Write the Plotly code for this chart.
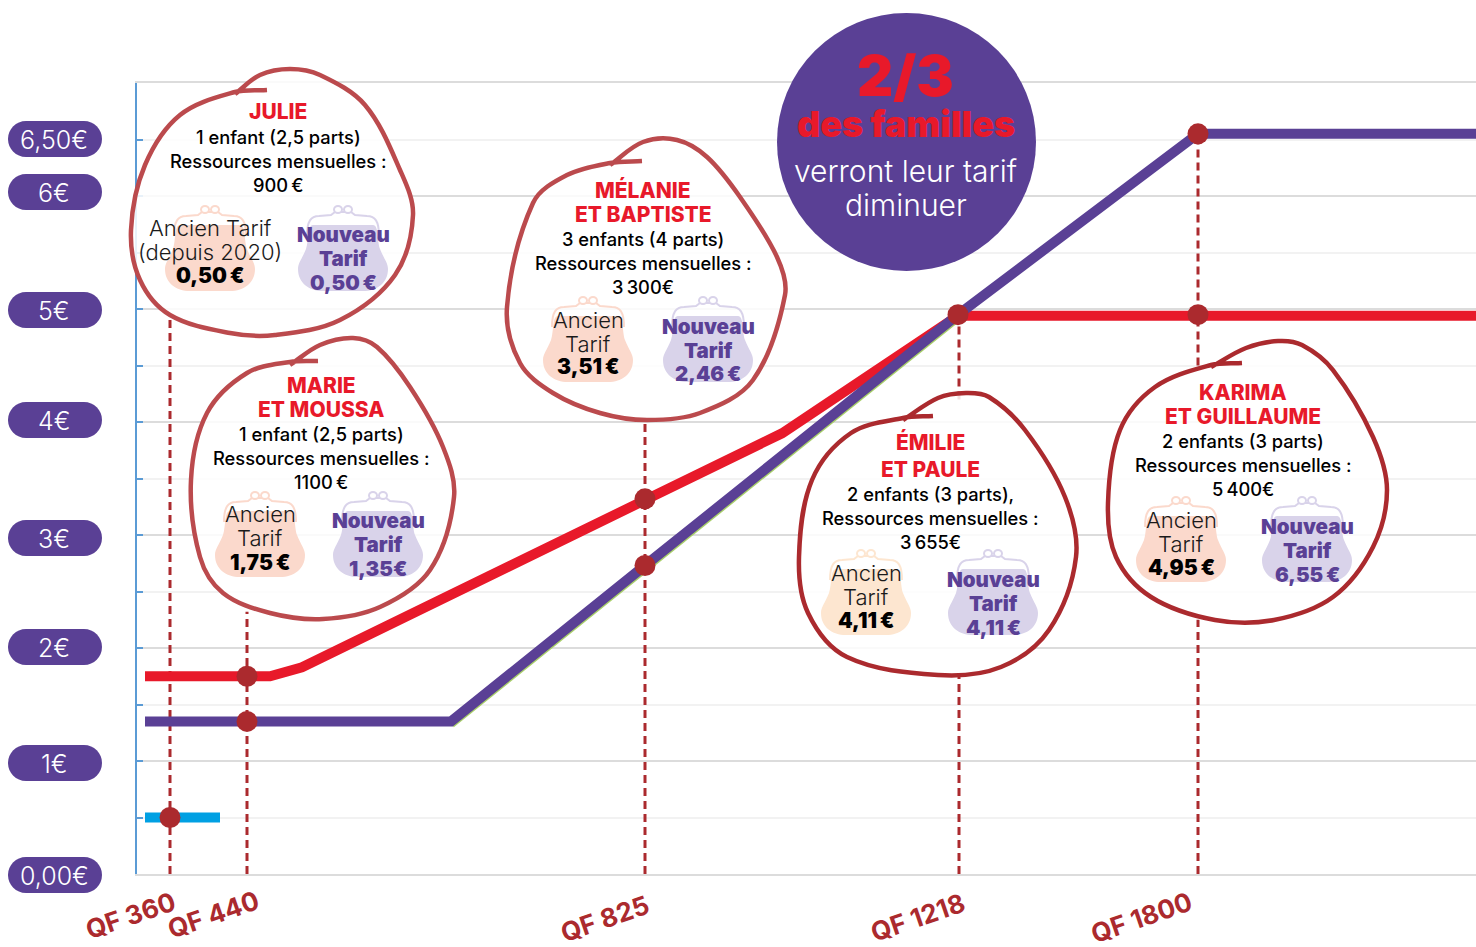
import math
import plotly.graph_objects as go

# ---------- data ----------
y_tick_values = [0, 1, 2, 3, 4, 5, 6, 6.5]
y_tick_labels = ["0,00€", "1€", "2€", "3€", "4€", "5€", "6€", "6,50€"]
qf_labels = ["QF 360", "QF 440", "QF 825", "QF 1218", "QF 1800"]
qf_pos = [170, 247, 645, 959, 1198]          # the QF scale of the source is not linear

old_x = [145, 247, 270, 302, 645, 782, 958, 1476]
old_y = [1.75, 1.75, 1.75, 1.83, 3.32, 3.90, 4.94, 4.94]
new_x = [145, 451, 645, 958, 1198, 1476]
new_y = [1.35, 1.35, 2.73, 4.95, 6.55, 6.55]
edge_x = [451, 645, 958]
edge_y = [1.33, 2.71, 4.93]
low_x = [145, 220]
low_y = [0.5, 0.5]

dot_x = [170, 247, 247, 645, 645, 958, 1198, 1198]
dot_y = [0.5, 1.75, 1.35, 3.32, 2.73, 4.95, 4.95, 6.55]

drop_x = [[170, 170], [247, 247], [645, 645], [959, 959, None, 959, 959], [1198, 1198, None, 1198, 1198]]
drop_y = [[0, 4.94], [0, 2.32], [0, 4.0], [0, 1.75, None, 4.2, 4.95], [0, 2.25, None, 4.5, 6.55]]

names = [["JULIE"], ["MARIE", "ET MOUSSA"], ["MÉLANIE", "ET BAPTISTE"], ["ÉMILIE", "ET PAULE"], ["KARIMA", "ET GUILLAUME"]]
households = ["1 enfant (2,5 parts)", "1 enfant (2,5 parts)", "3 enfants (4 parts)", "2 enfants (3 parts),", "2 enfants (3 parts)"]
incomes = ["900\u2009€", "1100\u2009€", "3\u2009300€", "3\u2009655€", "5\u2009400€"]
old_labels = [["Ancien Tarif", "(depuis 2020)"], ["Ancien", "Tarif"], ["Ancien", "Tarif"], ["Ancien", "Tarif"], ["Ancien", "Tarif"]]
old_prices = ["0,50\u2009€", "1,75\u2009€", "3,51\u2009€", "4,11\u2009€", "4,95\u2009€"]
new_prices = ["0,50\u2009€", "1,35€", "2,46\u2009€", "4,11\u2009€", "6,55\u2009€"]

# ---------- style / layout ----------
W, H = 1476, 947
FONT = "Inter"
RED, PURPLE, DARK = "#e8192a", "#5a4095", "#ab2a2e"
SOFT = "#bb4a4d"

name_y = [[112], [385, 409], [190, 214], [442, 469], [392, 416]]
text_x = [278, 321, 643, 930, 1243]
detail_y = [[137, 161, 185], [434, 458, 482], [239, 263, 287], [494, 518, 542], [441, 465, 489]]
old_cx = [210, 260, 588, 866, 1181]
new_cx = [343, 378, 708, 993, 1307]
purse_bottom = [291, 577, 382, 635, 582]
old_text_y = [[228, 252, 275], [514, 538, 562], [320, 344, 367], [573, 597, 620], [520, 544, 567]]
new_text_y = [[234, 258, 282], [520, 544, 568], [326, 350, 374], [579, 603, 627], [526, 550, 574]]
old_fill = ["#fbd9cc", "#fbd9cc", "#fbd9cc", "#fde6d0", "#fbd9cc"]
new_fill = "#d9d3ea"
blob_color = [SOFT, SOFT, SOFT, DARK, DARK]
blobs = [
    [(267, 90), (235, 92), (180, 115), (145, 165), (131, 230), (140, 280), (170, 315), (230, 333), (275, 335), (340, 320),
     (395, 275), (413, 215), (400, 170), (365, 105), (320, 75), (290, 69), (260, 75), (235, 94)],
    [(318, 361), (290, 362), (247, 373), (207, 413), (191, 480), (200, 557), (223, 593), (270, 613), (323, 619), (380, 607),
     (430, 570), (454, 497), (443, 447), (410, 387), (377, 347), (353, 338), (320, 345), (290, 365)],
    [(642, 161), (610, 163), (567, 175), (533, 203), (507, 307), (520, 363), (553, 393), (600, 413), (647, 420), (700, 413),
     (753, 380), (785, 295), (777, 257), (740, 197), (707, 157), (677, 140), (643, 142), (610, 165)],
    [(933, 416), (903, 418), (851, 433), (812, 480), (799, 557), (808, 613), (847, 657), (938, 675), (1001, 667), (1049, 630),
     (1076, 557), (1065, 497), (1025, 430), (989, 397), (966, 393), (938, 398), (903, 420)],
    [(1242, 363), (1211, 365), (1155, 387), (1120, 430), (1108, 503), (1116, 557), (1151, 597), (1215, 620), (1274, 620), (1333, 597),
     (1373, 547), (1387, 490), (1373, 437), (1333, 370), (1302, 345), (1278, 341), (1246, 348), (1211, 367)],
]


def px(x):
    return x / W


def py(y):
    return 1 - y / H


def P(x, y):
    return f"{px(x):.5f},{py(y):.5f}"


def smooth(points):
    d = "M" + P(*points[0])
    n = len(points)

    def unit(a, b):
        dx, dy = b[0] - a[0], b[1] - a[1]
        ln = math.hypot(dx, dy) or 1
        return dx / ln, dy / ln

    for i in range(n - 1):
        p0 = points[max(i - 1, 0)]
        p1, p2 = points[i], points[i + 1]
        p3 = points[min(i + 2, n - 1)]
        seg = math.hypot(p2[0] - p1[0], p2[1] - p1[1]) / 3
        t1 = unit(p0, p2)
        t2 = unit(p1, p3)
        c1 = (p1[0] + t1[0] * seg, p1[1] + t1[1] * seg)
        c2 = (p2[0] - t2[0] * seg, p2[1] - t2[1] * seg)
        d += f" C{P(*c1)} {P(*c2)} {P(*p2)}"
    return d


shapes, annotations = [], []


def pshape(d, fill="rgba(0,0,0,0)", line="rgba(0,0,0,0)", width=0):
    shapes.append(dict(type="path", path=d, xref="paper", yref="paper", layer="above",
                       fillcolor=fill, line=dict(color=line, width=width)))


def oval(x0, y0, x1, y1, fill, line="rgba(0,0,0,0)", width=0):
    shapes.append(dict(type="circle", xref="paper", yref="paper", layer="above",
                       x0=px(x0), x1=px(x1), y0=py(y1), y1=py(y0), fillcolor=fill, line=dict(color=line, width=width)))


def text(x, y, s, size, color="#000000", weight=400, angle=0):
    annotations.append(dict(xref="paper", yref="paper", x=px(x), y=py(y), text=s,
                            showarrow=False, xanchor="center", yanchor="middle", textangle=angle,
                            font=dict(family=FONT, size=size, color=color, weight=weight)))


def purse(cx, b, fill):
    d = (f"M{P(cx-30, b-66)} L{P(cx+30, b-66)} C{P(cx+36, b-66)} {P(cx+34, b-50)} {P(cx+37, b-42)} "
         f"C{P(cx+41, b-32)} {P(cx+45, b-28)} {P(cx+45, b-22)} C{P(cx+45, b-8)} {P(cx+34, b)} {P(cx+20, b)} "
         f"L{P(cx-20, b)} C{P(cx-34, b)} {P(cx-45, b-8)} {P(cx-45, b-22)} C{P(cx-45, b-28)} {P(cx-41, b-32)} {P(cx-37, b-42)} "
         f"C{P(cx-34, b-50)} {P(cx-36, b-66)} {P(cx-30, b-66)} Z")
    pshape(d, fill=fill)
    frame = (f"M{P(cx-36, b-55)} C{P(cx-36, b-70)} {P(cx-32, b-75)} {P(cx-24, b-75)} L{P(cx-12, b-76)} L{P(cx-8, b-79)} "
             f"L{P(cx+8, b-79)} L{P(cx+12, b-76)} L{P(cx+24, b-75)} C{P(cx+32, b-75)} {P(cx+36, b-70)} {P(cx+36, b-55)}")
    pshape(frame, line=fill, width=2)
    oval(cx - 9, b - 85, cx - 1, b - 78, "#ffffff", fill, 2)
    oval(cx + 1, b - 85, cx + 9, b - 78, "#ffffff", fill, 2)


# ---------- chart ----------
fig = go.Figure()
for xs, ys in zip(drop_x, drop_y):
    fig.add_trace(go.Scatter(x=xs, y=ys, mode="lines", line=dict(color=DARK, width=3, dash="8px,5px"), hoverinfo="skip"))
fig.add_trace(go.Scatter(x=low_x, y=low_y, mode="lines", line=dict(color="#00a0e3", width=10)))
fig.add_trace(go.Scatter(x=old_x, y=old_y, mode="lines", line=dict(color=RED, width=10)))
fig.add_trace(go.Scatter(x=edge_x, y=edge_y, mode="lines", line=dict(color="#a8cf6a", width=9)))
fig.add_trace(go.Scatter(x=new_x, y=new_y, mode="lines", line=dict(color=PURPLE, width=10)))
fig.add_trace(go.Scatter(x=dot_x, y=dot_y, mode="markers", marker=dict(color=DARK, size=21)))

# tick pills
pill_center = [875, 763, 647, 538, 420, 310, 192, 139]
for lab, cy in zip(y_tick_labels, pill_center):
    r = 18
    d = (f"M{P(26, cy-r)} L{P(84, cy-r)} C{P(94, cy-r)} {P(102, cy-10)} {P(102, cy)} C{P(102, cy+10)} {P(94, cy+r)} {P(84, cy+r)} "
         f"L{P(26, cy+r)} C{P(16, cy+r)} {P(8, cy+10)} {P(8, cy)} C{P(8, cy-10)} {P(16, cy-r)} {P(26, cy-r)} Z")
    pshape(d, fill=PURPLE)
    text(54, cy + 1, lab, 25, "#ffffff", 300)

# x labels
qf_label_x = [130, 213, 605, 917, 1141]
qf_label_y = [915, 914, 918, 917, 917]
for lab, x, y in zip(qf_labels, qf_label_x, qf_label_y):
    text(x, y, lab, 26, DARK, 700, angle=-19)

# big circle
oval(777, 13, 1036, 271, PURPLE)
text(906, 76, "2/3", 56, RED, 900)
text(906, 124, "des familles", 36, RED, 900)
text(906, 171, "verront leur tarif", 30, "#ffffff", 300)
text(906, 205, "diminuer", 30, "#ffffff", 300)

# speech blobs
for i in range(5):
    pshape(smooth(blobs[i]), fill="rgba(255,255,255,0.86)", line=blob_color[i], width=4.5)
    purse(old_cx[i], purse_bottom[i], old_fill[i])
    purse(new_cx[i], purse_bottom[i], new_fill)
    for s, y in zip(names[i], name_y[i]):
        text(text_x[i], y, s, 21, RED, 800)
    for s, y in zip([households[i], "Ressources mensuelles :", incomes[i]], detail_y[i]):
        text(text_x[i], y, s, 18.3, "#000000", 500)
    for s, y in zip(old_labels[i], old_text_y[i]):
        text(old_cx[i], y, s, 22, "#1a1a1a", 300)
    text(old_cx[i], old_text_y[i][2], old_prices[i], 21, "#000000", 900)
    for s, y in zip(["Nouveau", "Tarif", new_prices[i]], new_text_y[i]):
        text(new_cx[i], y, s, 20.5, PURPLE, 900)

fig.update_layout(
    width=W, height=H, autosize=False, margin=dict(l=0, r=0, t=0, b=0),
    paper_bgcolor="#ffffff", plot_bgcolor="#ffffff", showlegend=False,
    shapes=shapes, annotations=annotations, hovermode=False,
    xaxis=dict(domain=[137 / W, 1], range=[137, 1476], showgrid=False, zeroline=False,
               showline=True, mirror=True, linecolor="#dcdcdc", linewidth=2,
               tickmode="array", tickvals=qf_pos, ticktext=[""] * 5, ticks=""),
    yaxis=dict(domain=[(H - 874) / H, (H - 83) / H], range=[0, 7], dtick=1, tick0=0, showticklabels=False,
               gridcolor="#dcdcdc", gridwidth=2, zeroline=False, showline=True, linecolor="#5b9bd5", linewidth=2,
               ticks="inside", ticklen=6, tickcolor="#5b9bd5", tickwidth=2,
               minor=dict(dtick=0.5, tick0=0, showgrid=True, gridcolor="#f2f2f2", gridwidth=2,
                          ticks="inside", ticklen=6, tickcolor="#5b9bd5", tickwidth=2)),
)
fig.write_html("out.html", post_script="document.body.style.margin='0';", config={"displayModeBar": False})
